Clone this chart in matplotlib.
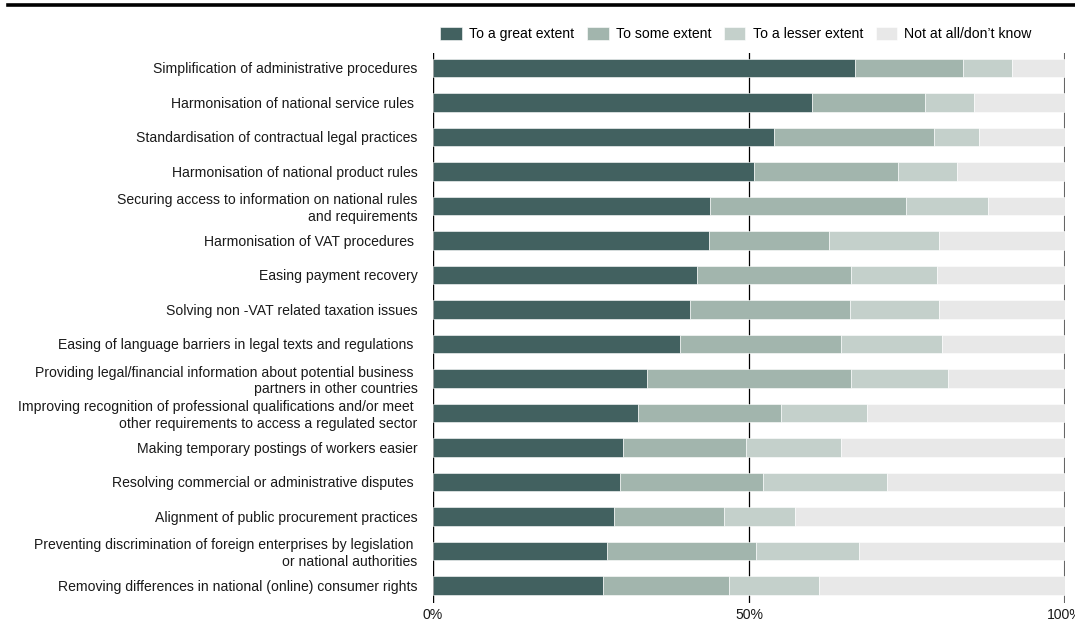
import matplotlib
matplotlib.use("Agg")
import matplotlib.pyplot as plt
from matplotlib.patches import Rectangle

plt.rcParams['font.family'] = ['Liberation Sans', 'DejaVu Sans']

categories = [
    'Simplification of administrative procedures',
    'Harmonisation of national service rules ',
    'Standardisation of contractual legal practices',
    'Harmonisation of national product rules',
    'Securing access to information on national rules\nand requirements',
    'Harmonisation of VAT procedures ',
    'Easing payment recovery',
    'Solving non -VAT related taxation issues',
    'Easing of language barriers in legal texts and regulations ',
    'Providing legal/financial information about potential business \npartners in other countries',
    'Improving recognition of professional qualifications and/or meet \nother requirements to access a regulated sector',
    'Making temporary postings of workers easier',
    'Resolving commercial or administrative disputes ',
    'Alignment of public procurement practices',
    'Preventing discrimination of foreign enterprises by legislation \nor national authorities',
    'Removing differences in national (online) consumer rights',
]

great = [66.8, 60.0, 53.9, 50.8, 43.8, 43.7, 41.8, 40.6, 39.1, 33.9, 32.4, 30.1, 29.6, 28.6, 27.5, 26.9]
some = [17.1, 17.8, 25.4, 22.8, 31.0, 19.0, 24.3, 25.4, 25.5, 32.2, 22.7, 19.4, 22.6, 17.4, 23.6, 19.9]
lesser = [7.7, 7.8, 7.1, 9.3, 13.0, 17.3, 13.6, 14.1, 15.9, 15.4, 13.6, 15.1, 19.6, 11.3, 16.3, 14.3]
not_at_all = [8.4, 14.4, 13.6, 17.1, 12.2, 20.0, 20.3, 19.9, 19.5, 18.5, 31.3, 35.4, 28.2, 42.7, 32.6, 38.9]

series_names = ['To a great extent', 'To some extent', 'To a lesser extent', 'Not at all/don\u2019t know']
colors = ['#426160', '#a2b5ad', '#c4d0cb', '#e8e8e8']

FS = 10.1

fig = plt.figure(figsize=(10.91, 6.42), dpi=100)
ax = fig.add_axes([433 / 1091, 1 - 602.7 / 642, (1065 - 433) / 1091, 550 / 642])

y = list(range(len(categories)))
left = [0.0] * len(categories)
handles = []
for vals, name, c in zip([great, some, lesser, not_at_all], series_names, colors):
    h = ax.barh(y, vals, left=left, height=0.53, color=c, edgecolor='white',
                linewidth=0.4, label=name, zorder=3)
    handles.append(h)
    left = [l + v for l, v in zip(left, vals)]

ax.set_xlim(0, 100)
ax.set_ylim(15.5, -0.44)
ax.axvline(0, color='black', lw=1.0, zorder=1)
ax.axvline(50, color='black', lw=0.9, zorder=1)
ax.axvline(100, color='#666666', lw=1.5, zorder=1)

ax.set_yticks(y)
ax.set_yticklabels(categories, fontsize=FS, color='#1a1a1a', linespacing=1.2)
ax.set_xticks([0, 50, 100])
ax.set_xticklabels(['0%', '50%', '100%'], fontsize=FS, color='#1a1a1a')
ax.tick_params(axis='y', length=0, pad=11)
ax.tick_params(axis='x', length=0, pad=3.5)
for s in ax.spines.values():
    s.set_visible(False)

fig.legend(handles=handles, loc='center', bbox_to_anchor=(736 / 1091, 1 - 34 / 642),
           ncol=4, frameon=False, fontsize=FS, handlelength=1.55, handleheight=1.1,
           handletextpad=0.5, columnspacing=0.9, borderpad=0)

# heavy rule across the top
fig.add_artist(plt.Line2D([8 / 1091, 1075 / 1091], [1 - 5 / 642, 1 - 5 / 642],
                          color='black', lw=2.6, transform=fig.transFigure))
# right margin trimmed
fig.add_artist(Rectangle((1075 / 1091, 0), 16 / 1091, 1, transform=fig.transFigure,
                         facecolor='white', edgecolor='none', zorder=10))

fig.savefig('out.png', dpi=100)
